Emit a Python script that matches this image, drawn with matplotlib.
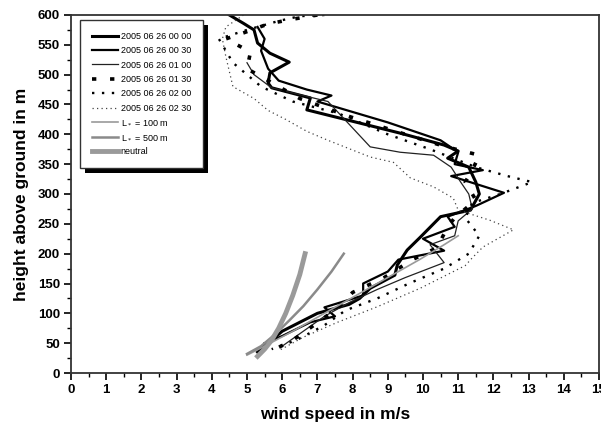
import matplotlib
matplotlib.use("Agg")
import matplotlib.pyplot as plt
from matplotlib.patches import Rectangle

plt.rcParams['font.family'] = ['Liberation Sans', 'DejaVu Sans']

# ---- data (wind speed m/s, height m) ----
s0000_u = [4.5, 4.9, 5.2, 5.3, 5.65, 6.2, 5.65, 5.6, 5.7, 6.8, 6.7, 9.35, 10.6, 11.0, 10.7, 11.3, 11.5, 11.6,
           11.35, 10.5, 9.93, 9.55, 9.27, 9.2, 8.5, 8.2, 7.9, 7.0, 6.0, 5.7, 5.5, 5.3]
s0000_h = [600, 586, 575, 553, 536, 521, 503, 486, 478, 461, 441, 402, 382, 372, 360, 345, 320, 300,
           273, 262, 228, 206, 181, 164, 142, 125, 115, 100, 70, 55, 45, 35]

s0030_u = [5.3, 5.5, 5.4, 5.6, 5.9, 6.7, 7.4, 7.0, 9.0, 10.5, 11.0, 10.9, 11.7, 10.8, 12.3, 11.5, 10.7,
           10.9, 10.0, 10.6, 9.3, 9.0, 8.3, 8.3, 7.2, 7.5, 6.8, 6.0, 5.5]
s0030_h = [580, 560, 540, 510, 490, 475, 465, 455, 420, 390, 370, 350, 340, 330, 302, 280, 262,
           245, 225, 205, 190, 170, 150, 130, 110, 95, 85, 62, 50]

s0100_u = [5.0, 5.2, 5.7, 7.3, 8.5, 9.35, 10.3, 10.8, 11.07, 11.3, 11.4, 11.0, 10.9, 10.2, 10.6, 9.5,
           8.7, 7.9, 7.2, 6.6, 6.0]
s0100_h = [520, 500, 478, 455, 379, 370, 365, 345, 320, 300, 275, 255, 230, 215, 185, 160,
           140, 118, 95, 70, 45]

s0130_u = [7.0, 6.2, 5.6, 4.9, 4.4, 5.1, 5.0, 5.9, 6.5, 7.9, 9.5, 10.6, 11.6, 11.4, 11.2, 11.5, 10.9,
           10.7, 10.4, 9.7, 8.9, 8.0, 7.6, 6.9, 6.3, 5.8]
s0130_h = [600, 592, 585, 570, 560, 538, 510, 480, 460, 430, 400, 380, 365, 340, 320, 290, 260,
           245, 210, 190, 160, 135, 110, 80, 55, 40]

s0200_u = [7.2, 6.5, 5.9, 5.0, 4.2, 4.6, 5.4, 6.3, 7.6, 9.0, 10.2, 11.5, 12.4, 13.1, 12.2, 11.4,
           11.2, 11.6, 11.3, 10.6, 9.6, 8.7, 7.8, 7.2, 6.4, 5.7]
s0200_h = [600, 598, 590, 575, 560, 520, 480, 455, 435, 400, 375, 345, 330, 320, 300, 285,
           260, 230, 200, 175, 150, 125, 105, 80, 55, 40]

s0230_u = [4.9, 4.4, 4.3, 4.4, 4.6, 5.2, 5.6, 6.1, 6.7, 7.3, 8.5, 9.16, 9.64, 10.3, 10.86, 11.0, 11.9,
           12.57, 11.7, 11.4, 11.2, 9.92, 8.7, 7.57, 6.6, 5.95]
s0230_h = [600, 580, 560, 530, 480, 460, 440, 425, 405, 390, 362, 353, 327, 312, 293, 273, 256,
           240, 211, 193, 180, 142, 111, 85, 60, 39]

l100_u = [5.0, 5.5, 6.3, 7.2, 8.1, 9.0, 9.9, 10.6, 11.0]
l100_h = [30, 45, 70, 100, 130, 160, 190, 215, 230]

l500_u = [5.0, 5.4, 5.8, 6.2, 6.6, 7.0, 7.4, 7.75]
l500_h = [32, 45, 65, 88, 112, 140, 170, 200]

neutral_u = [5.3, 5.5, 5.7, 5.9, 6.1, 6.3, 6.5, 6.65]
neutral_h = [28, 40, 55, 75, 100, 130, 165, 200]

labels = ['2005 06 26 00 00', '2005 06 26 00 30', '2005 06 26 01 00', '2005 06 26 01 30',
          '2005 06 26 02 00', '2005 06 26 02 30', 'L$_*$ = 100 m', 'L$_*$ = 500 m', 'neutral']

xticks = list(range(0, 16))
yticks = list(range(0, 601, 50))

fig = plt.figure(figsize=(6.01, 4.29), dpi=100)
ax = fig.add_axes([71/601, 1 - 373/429, (599-71)/601, (373-15)/429])

ax.plot(s0000_u, s0000_h, color='black', lw=2.2, label=labels[0])
ax.plot(s0030_u, s0030_h, color='black', lw=1.6, label=labels[1])
ax.plot(s0100_u, s0100_h, color='#222222', lw=0.9, label=labels[2])
ax.plot(s0130_u, s0130_h, color='black', lw=2.6, dashes=(1.2, 3.8), label=labels[3])
ax.plot(s0200_u, s0200_h, color='black', lw=1.7, dashes=(1, 3.2), label=labels[4])
ax.plot(s0230_u, s0230_h, color='#444444', lw=0.9, dashes=(1, 2.6), label=labels[5])
ax.plot(l100_u, l100_h, color='#9a9a9a', lw=1.2, label=labels[6])
ax.plot(l500_u, l500_h, color='#8a8a8a', lw=1.8, label=labels[7])
ax.plot(neutral_u, neutral_h, color='#9a9a9a', lw=3.5, label=labels[8])

ax.set_xlim(0, 15)
ax.set_ylim(0, 600)
ax.set_xticks(xticks)
ax.set_yticks(yticks)
ax.set_xticks([x + 0.5 for x in range(15)], minor=True)
ax.set_yticks([y + 25 for y in range(0, 600, 50)], minor=True)
ax.tick_params(which='major', direction='out', length=5, width=1.2, labelsize=9.5, pad=3)
ax.tick_params(which='minor', direction='out', length=3, width=1.0)
for lab in ax.get_xticklabels() + ax.get_yticklabels():
    lab.set_fontweight('bold')
for sp in ax.spines.values():
    sp.set_linewidth(1.3)
    sp.set_color('#333333')

ax.set_xlabel('wind speed in m/s', fontsize=12.5, fontweight='bold', labelpad=8)
ax.set_ylabel('height above ground in m', fontsize=12.5, fontweight='bold', labelpad=6)

leg = ax.legend(loc='upper left', bbox_to_anchor=(0.017, 0.986), fontsize=6.5, frameon=True,
                fancybox=False, edgecolor='#333333', facecolor='white', framealpha=1.0,
                handlelength=2.9, handletextpad=0.3,
                labelspacing=0.6, borderpad=1.3, borderaxespad=0)
leg.get_frame().set_linewidth(1.0)
leg.set_zorder(5)

fig.canvas.draw()
bb = leg.get_window_extent()
off = 5
shadow = Rectangle((bb.x0 + off, bb.y0 - off), bb.width, bb.height, transform=None,
                   facecolor='black', edgecolor='none', zorder=4)
ax.add_artist(shadow)

fig.savefig('out.png', dpi=100)
